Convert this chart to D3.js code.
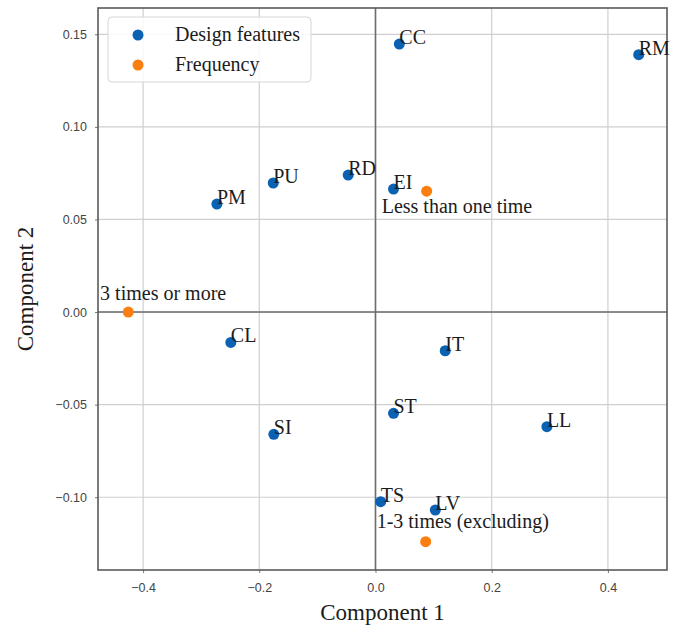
<!DOCTYPE html>
<html>
<head>
<meta charset="utf-8">
<script src="https://cdn.jsdelivr.net/npm/d3@7"></script>
<style>
  body { margin: 0; background: #fff; }
  svg { display: block; }
</style>
</head>
<body>
<svg id="chart"></svg>
<script>
// design features (blue)
const featureNames = ["CC", "RM", "RD", "EI", "PU", "PM", "CL", "SI", "IT", "ST", "LL", "TS", "LV"]
const featureX = [0.041, 0.453, -0.047, 0.031, -0.176, -0.273, -0.249, -0.175, 0.120, 0.031, 0.295, 0.009, 0.103]
const featureY = [0.1447, 0.139, 0.074, 0.0664, 0.0697, 0.0583, -0.0164, -0.066, -0.0209, -0.0547, -0.0619, -0.1024, -0.1069]

// frequency (orange) and where their labels sit, in data units
const freqNames = ["Less than one time", "3 times or more", "1-3 times (excluding)"]
const freqX = [0.088, -0.4255, 0.0864]
const freqY = [0.0653, 0.0, -0.124]
const freqLabelX = [0.0107, -0.474, 0.002]
const freqLabelY = [0.0535, 0.0065, -0.1166]

const xTicks = [-0.4, -0.2, 0.0, 0.2, 0.4]
const yTicks = [-0.10, -0.05, 0.00, 0.05, 0.10, 0.15]

const full_width = 675
const full_height = 628
const blue = "#0b62b3"
const orange = "#fb7f10"
const serif = "'Liberation Serif', 'Times New Roman', serif"

const svg = d3.select("#chart")
  .attr("width", full_width)
  .attr("height", full_height)

// plot frame
const pLeft = 98, pRight = 667, pTop = 8, pBottom = 570

const x = d3.scaleLinear()
  .domain([-0.4776, 0.5017])
  .range([pLeft, pRight])
const y = d3.scaleLinear()
  .domain([-0.1393, 0.1642])
  .range([pBottom, pTop])

// grid
svg.append("g")
  .selectAll("line")
  .data(xTicks)
  .enter()
  .append("line")
  .attr("x1", d => x(d)).attr("x2", d => x(d))
  .attr("y1", pTop).attr("y2", pBottom)
  .attr("stroke", "#cfcfcf")
  .attr("stroke-width", 1.2)
svg.append("g")
  .selectAll("line")
  .data(yTicks)
  .enter()
  .append("line")
  .attr("x1", pLeft).attr("x2", pRight)
  .attr("y1", d => y(d)).attr("y2", d => y(d))
  .attr("stroke", "#cfcfcf")
  .attr("stroke-width", 1.2)

// zero lines
svg.append("line")
  .attr("x1", x(0)).attr("x2", x(0))
  .attr("y1", pTop).attr("y2", pBottom)
  .attr("stroke", "#6e6e6e")
  .attr("stroke-width", 1.6)
svg.append("line")
  .attr("x1", pLeft).attr("x2", pRight)
  .attr("y1", y(0)).attr("y2", y(0))
  .attr("stroke", "#6e6e6e")
  .attr("stroke-width", 1.6)

// axes
const fmt = d => d3.format(".2f")(d).replace("-", "\u2212")
const xaxis = d3.axisBottom(x).tickValues(xTicks).tickSize(3).tickPadding(10)
  .tickFormat(d => d3.format(".1f")(d).replace("-", "\u2212"))
const yaxis = d3.axisLeft(y).tickValues(yTicks).tickSize(3).tickPadding(8).tickFormat(fmt)

svg.append("g")
  .attr("transform", `translate(0, ${pBottom})`)
  .call(xaxis)
  .call(g => g.select(".domain").remove())
svg.append("g")
  .attr("transform", `translate(${pLeft}, 0)`)
  .call(yaxis)
  .call(g => g.select(".domain").remove())

svg.selectAll(".tick line").attr("stroke", "#777")
svg.selectAll(".tick text")
  .attr("fill", "#444")
  .attr("font-family", "'Liberation Sans', Arial, sans-serif")
  .attr("font-size", "12.5px")

// frame
svg.append("rect")
  .attr("x", pLeft).attr("y", pTop)
  .attr("width", pRight - pLeft).attr("height", pBottom - pTop)
  .attr("fill", "none")
  .attr("stroke", "#5a5a5a")
  .attr("stroke-width", 1.6)

// points
const features = featureNames.map((n, i) => ({ name: n, x: featureX[i], y: featureY[i] }))
const freqs = freqNames.map((n, i) => ({ name: n, x: freqX[i], y: freqY[i], lx: freqLabelX[i], ly: freqLabelY[i] }))

svg.append("g")
  .selectAll("circle")
  .data(features)
  .enter()
  .append("circle")
  .attr("cx", d => x(d.x))
  .attr("cy", d => y(d.y))
  .attr("r", 5.5)
  .attr("fill", blue)

svg.append("g")
  .selectAll("circle")
  .data(freqs)
  .enter()
  .append("circle")
  .attr("cx", d => x(d.x))
  .attr("cy", d => y(d.y))
  .attr("r", 5.5)
  .attr("fill", orange)

// labels
svg.append("g")
  .selectAll("text")
  .data(features)
  .enter()
  .append("text")
  .attr("x", d => x(d.x))
  .attr("y", d => y(d.y))
  .text(d => d.name)
  .attr("font-family", serif)
  .attr("font-size", "20px")
  .attr("fill", "#1c1c1c")

svg.append("g")
  .selectAll("text")
  .data(freqs)
  .enter()
  .append("text")
  .attr("x", d => x(d.lx))
  .attr("y", d => y(d.ly))
  .text(d => d.name)
  .attr("font-family", serif)
  .attr("font-size", "20px")
  .attr("fill", "#1c1c1c")

// legend
const legend = svg.append("g")
legend.append("rect")
  .attr("x", 108).attr("y", 17)
  .attr("width", 203).attr("height", 65)
  .attr("rx", 4)
  .attr("fill", "#fff")
  .attr("fill-opacity", 0.85)
  .attr("stroke", "#d6d6d6")
const legendItems = [["Design features", blue], ["Frequency", orange]]
legend.selectAll("g")
  .data(legendItems)
  .enter()
  .append("g")
  .attr("transform", (d, i) => `translate(138, ${35 + i * 30})`)
  .each(function(d) {
    const g = d3.select(this)
    g.append("circle").attr("r", 5.5).attr("fill", d[1])
    g.append("text")
      .attr("x", 37).attr("y", 6)
      .text(d[0])
      .attr("font-family", serif)
      .attr("font-size", "20px")
      .attr("fill", "#1c1c1c")
  })

// axis titles
svg.append("text")
  .attr("x", (pLeft + pRight) / 2)
  .attr("y", 620)
  .attr("text-anchor", "middle")
  .attr("font-family", serif)
  .attr("font-size", "23px")
  .attr("fill", "#1c1c1c")
  .text("Component 1")
svg.append("text")
  .attr("transform", `translate(33, ${(pTop + pBottom) / 2}) rotate(-90)`)
  .attr("text-anchor", "middle")
  .attr("font-family", serif)
  .attr("font-size", "23px")
  .attr("fill", "#1c1c1c")
  .text("Component 2")
</script>
</body>
</html>
